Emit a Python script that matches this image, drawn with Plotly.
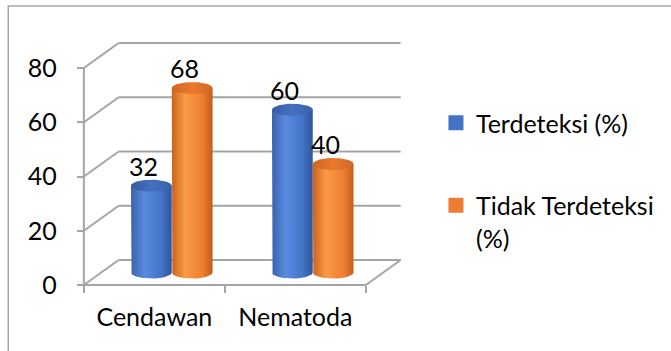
import numpy as np
import plotly.graph_objects as go

# ---------------- data ----------------
categories = ["Cendawan", "Nematoda"]
series_names = ["Terdeteksi (%)", "Tidak Terdeteksi<br>(%)"]
terdeteksi = [32, 60]
tidak_terdeteksi = [68, 40]
y_ticks = [0, 20, 40, 60, 80]

# ---------------- geometry / style ----------------
W, H = 671, 351
PX_X0, PX_PER_X = 84, 141.75      # pixel of x=-0.5, pixels per category
PX_Y0, PX_PER_Y = 285, 2.7125     # pixel of y=0, pixels per unit
PL, PR, PT, PB = 60, 430, 15, 300  # plot area in pixels

def x_of(px):
    return (px - PX_X0) / PX_PER_X - 0.5

def y_of(py):
    return (PX_Y0 - py) / PX_PER_Y

DX = 35 / PX_PER_X     # depth offset (x)
DY = 25 / PX_PER_Y     # depth offset (y)
HW = 20.5 / PX_PER_X   # cylinder half width
RY = 6.0 / PX_PER_Y    # ellipse half height
FONT = "Lato"
FS = 25
GRID = "#a5a5a5"

colors = {
    0: dict(body=[[0, "#3b61ab"], [0.33, "#5a8be0"], [0.75, "#4573c6"], [1, "#2f559c"]],
            top=[[0, "#355ba6"], [0.5, "#4670bf"], [1, "#3961ab"]],
            solid="#4472c4"),
    1: dict(body=[[0, "#c9621e"], [0.33, "#fb9a45"], [0.75, "#ef7f31"], [1, "#c45c19"]],
            top=[[0, "#cc651f"], [0.5, "#ea792e"], [1, "#d06822"]],
            solid="#ed7d31"),
}

fig = go.Figure()

series = [terdeteksi, tidak_terdeteksi]
offsets = [-HW, HW]
t = np.linspace(0, np.pi, 40)

for ci, cat in enumerate(categories):
    for si, vals in enumerate(series):
        v = vals[ci]
        cx = ci + offsets[si] + DX / 2
        base = DY / 2
        top = v + DY / 2
        # body: left edge down, bottom front arc, right edge up
        bx = np.concatenate([[cx - HW, cx - HW], cx - HW * np.cos(t), [cx + HW, cx - HW]])
        by = np.concatenate([[top, base], base - RY * np.sin(t), [top, top]])
        fig.add_trace(go.Scatter(
            x=bx, y=by, mode="lines", fill="toself", line=dict(width=0),
            fillgradient=dict(type="horizontal", colorscale=colors[si]["body"]),
            hoverinfo="skip", showlegend=False))
        # top ellipse
        tt = np.linspace(0, 2 * np.pi, 80)
        fig.add_trace(go.Scatter(
            x=cx + HW * np.cos(tt), y=top + RY * np.sin(tt), mode="lines",
            fill="toself", line=dict(width=0),
            fillgradient=dict(type="horizontal", colorscale=colors[si]["top"]),
            hoverinfo="skip", showlegend=False))
        fig.add_annotation(x=cx - 8 / PX_PER_X, y=top + 20 / PX_PER_Y, text=str(v),
                           showarrow=False, font=dict(family=FONT, size=FS, color="#000"))

# legend entries
for si, name in enumerate(series_names):
    fig.add_trace(go.Scatter(
        x=[None], y=[None], mode="markers", name=name, legendgroup=f"g{si}",
        marker=dict(symbol="square", size=15, color=colors[si]["solid"])))

shapes = []
x_left, x_right = -0.5, len(categories) - 0.5
for tv in y_ticks:
    shapes.append(dict(type="line", x0=x_left + DX, y0=tv + DY, x1=x_right + DX, y1=tv + DY,
                       line=dict(color=GRID, width=2), layer="below"))
    shapes.append(dict(type="line", x0=x_left, y0=tv, x1=x_left + DX, y1=tv + DY,
                       line=dict(color=GRID, width=2), layer="below"))
shapes.append(dict(type="line", x0=x_left, y0=0, x1=x_left, y1=max(y_ticks),
                   line=dict(color=GRID, width=2), layer="below"))
shapes.append(dict(type="line", x0=x_left, y0=0, x1=x_right, y1=0,
                   line=dict(color=GRID, width=2), layer="below"))
shapes.append(dict(type="line", x0=x_right, y0=0, x1=x_right + DX, y1=DY,
                   line=dict(color=GRID, width=2), layer="below"))
# outer chart border
pw, ph = PR - PL, PB - PT
shapes.append(dict(type="rect", xref="paper", yref="paper",
                   x0=(8 - PL) / pw, x1=(720 - PL) / pw,
                   y0=(PB - 400) / ph, y1=(PB - 6) / ph,
                   line=dict(color="#a6a6a6", width=1.5), layer="below"))

fig.update_layout(
    width=W, height=H,
    margin=dict(l=PL, r=W - PR, t=PT, b=H - PB, pad=0),
    paper_bgcolor="white", plot_bgcolor="white",
    font=dict(family=FONT, size=FS, color="#000"),
    shapes=shapes,
    showlegend=True,
    legend=dict(x=(438 - PL) / pw, xanchor="left", y=(PB - 100) / ph, yanchor="top",
                valign="top", tracegroupgap=47, font=dict(family=FONT, size=FS, color="#000"),
                bgcolor="rgba(0,0,0,0)"),
    xaxis=dict(range=[x_of(PL), x_of(PR)], tickvals=list(range(len(categories))),
               ticktext=categories, ticks="", showgrid=False, zeroline=False,
               showline=False, anchor="free", position=(PB - PX_Y0) / ph,
               ticklabelstandoff=15,
               minor=dict(tickvals=[i - 0.5 for i in range(len(categories) + 1)],
                          ticks="outside", ticklen=7, tickcolor=GRID, tickwidth=2,
                          showgrid=False)),
    yaxis=dict(range=[y_of(PB), y_of(PT)], tickvals=y_ticks, ticks="outside",
               ticklen=7, tickcolor=GRID, tickwidth=2, showgrid=False,
               zeroline=False, showline=False, anchor="free",
               position=(PX_X0 - PL) / pw, ticklabelstandoff=15),
)

fig.write_html("out.html")
